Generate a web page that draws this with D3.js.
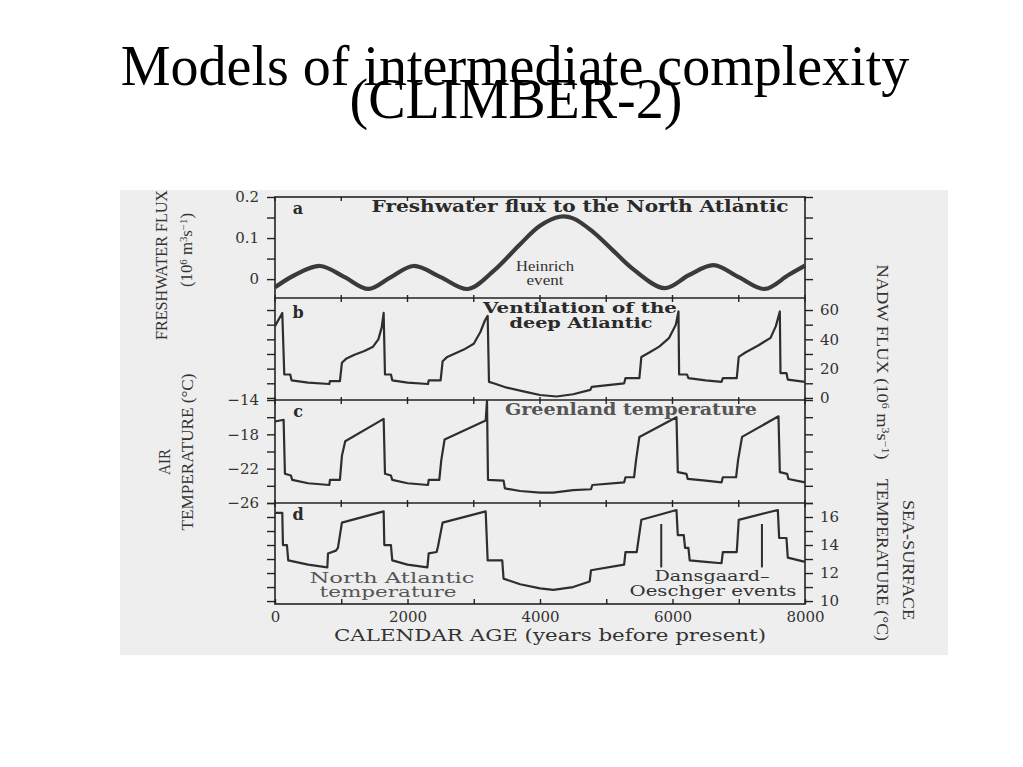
<!DOCTYPE html>
<html><head><meta charset="utf-8">
<script src="https://cdn.jsdelivr.net/npm/d3@7"></script>
<style>body{margin:0;background:#fff;} svg{display:block}</style>
</head><body>
<svg id="chart" width="1023" height="767"></svg>
<script>
// ---------- DATA ----------
const titleLines = ["Models of intermediate complexity", "(CLIMBER-2)"];

const xTickYears = [0, 1000, 2000, 3000, 4000, 5000, 6000, 7000, 8000];
const xLabelYears = [0, 2000, 4000, 6000, 8000];

// a: freshwater flux (10^6 m^3 s^-1)
const fluxYears  = [0, 300, 680, 1050, 1410, 1750, 2090, 2500, 2910, 3300, 3700, 4000, 4300, 4500, 4800, 5100, 5400, 5880, 6250, 6620, 7000, 7390, 7750, 8000];
const fluxValues = [-0.02, 0.01, 0.032, 0.005, -0.024, 0.005, 0.032, 0.005, -0.024, 0.02, 0.085, 0.13, 0.152, 0.148, 0.115, 0.07, 0.025, -0.022, 0.01, 0.034, 0.005, -0.024, 0.01, 0.033];
const fluxTicks = [0, 0.05, 0.1, 0.15, 0.2];
const fluxLabeled = [0, 0.1, 0.2];

// b: NADW flux (10^6 m^3 s^-1)
const nadwYears  = [0, 110, 140, 230, 250, 500, 820, 830, 980, 1010, 1080, 1200, 1350, 1480, 1560, 1610, 1640, 1660, 1750, 1770, 2000, 2310, 2320, 2500, 2530, 2600, 2700, 2850, 3000, 3100, 3170, 3210, 3230, 3300, 3500, 3800, 4000, 4250, 4500, 4760, 4780, 5270, 5290, 5500, 5530, 5650, 5800, 5950, 6050, 6090, 6100, 6220, 6240, 6500, 6740, 6760, 6970, 7000, 7100, 7300, 7480, 7560, 7620, 7630, 7720, 7740, 8000];
const nadwValues = [49, 58, 16, 16, 12, 10.5, 9.5, 11.5, 11.5, 24, 27, 29.5, 32, 35, 40, 48, 58, 16, 16, 12, 10.5, 9.5, 12, 12, 25, 28, 30, 33, 37, 45, 53, 56, 11, 10, 7, 4, 2, 1, 2.5, 5.5, 7.5, 10, 13.5, 13.5, 28, 31, 35, 41, 50, 59, 16, 16, 13.5, 12, 11, 13.5, 13.5, 28, 31, 36, 41, 49, 59, 17, 17, 12.5, 11];
const nadwTicks = [0, 10, 20, 30, 40, 50, 60];
const nadwLabeled = [0, 20, 40, 60];

// c: Greenland air temperature (°C)
const greenYears  = [0, 130, 150, 240, 260, 500, 820, 830, 980, 1010, 1060, 1640, 1660, 1750, 1770, 2000, 2310, 2320, 2480, 2510, 2560, 3180, 3200, 3215, 3450, 3470, 3700, 4000, 4200, 4500, 4770, 4790, 5270, 5290, 5420, 5450, 5500, 6060, 6080, 6210, 6230, 6500, 6740, 6760, 6960, 6990, 7050, 7600, 7620, 7730, 7750, 8000];
const greenValues = [-16.5, -16.3, -22.6, -22.8, -23.3, -23.7, -23.9, -23.3, -23.3, -20.5, -18.8, -16.2, -22.6, -22.8, -23.3, -23.7, -23.9, -23.3, -23.3, -21, -18.6, -16.4, -14.1, -23.3, -23.4, -24.3, -24.6, -24.8, -24.8, -24.5, -24.4, -23.9, -23.6, -23.0, -23.0, -21, -18.3, -16.0, -22.4, -22.6, -23.2, -23.4, -23.6, -23.0, -23.0, -21, -18.3, -15.9, -22.4, -22.6, -23.2, -23.6];
const greenTicks = [-26, -24, -22, -20, -18, -16, -14];
const greenLabeled = [-14, -18, -22, -26];

// d: North Atlantic sea-surface temperature (°C)
const sstYears  = [0, 110, 120, 180, 200, 500, 790, 800, 920, 950, 1010, 1640, 1650, 1750, 1770, 2000, 2300, 2320, 2440, 2460, 2530, 3180, 3210, 3430, 3450, 3700, 4000, 4200, 4500, 4750, 4770, 5270, 5290, 5460, 5530, 6060, 6080, 6170, 6190, 6240, 6260, 6500, 6740, 6760, 6970, 7000, 7590, 7610, 7720, 7740, 8000];
const sstValues = [16.3, 16.3, 14.0, 14.0, 12.9, 12.6, 12.4, 13.4, 13.6, 13.8, 15.6, 16.4, 14.0, 14.0, 12.9, 12.6, 12.4, 13.4, 13.5, 13.9, 15.6, 16.4, 12.9, 12.9, 11.6, 11.2, 10.9, 10.8, 11.0, 11.4, 12.2, 12.6, 13.5, 13.5, 15.8, 16.5, 14.7, 14.7, 13.8, 13.8, 12.9, 12.8, 12.7, 13.5, 13.5, 15.8, 16.5, 14.5, 14.5, 13.1, 12.8];
const sstTicks = [10, 11, 12, 13, 14, 15, 16, 17];
const sstLabeled = [10, 12, 14, 16];

// Dansgaard–Oeschger event markers
const doEventYears = [5830, 7350];
const doEventTop = 15.5;
const doEventBottom = 12.4;

// ---------- DRAW ----------
const svg = d3.select("#chart");
const SERIF = "'DejaVu Serif', serif";
const TIMES = "'Liberation Serif', 'Times New Roman', serif";

// title
svg.append("text").attr("x", 515).attr("y", 85).attr("text-anchor", "middle")
  .attr("font-family", TIMES).attr("font-size", 56).attr("fill", "#000").text(titleLines[0]);
svg.append("text").attr("x", 516).attr("y", 118).attr("text-anchor", "middle")
  .attr("font-family", TIMES).attr("font-size", 56).attr("fill", "#000").text(titleLines[1]);

// scanned figure background
svg.append("rect").attr("x", 120).attr("y", 190).attr("width", 828).attr("height", 465).attr("fill", "#eeeeee");

const L = 275, R = 805;
const x = d3.scaleLinear().domain([0, 8000]).range([L, R]);
const yA = d3.scaleLinear().domain([-0.046, 0.2]).range([298, 197]);
const yB = d3.scaleLinear().domain([-1.4, 68.2]).range([400, 298]);
const yC = d3.scaleLinear().domain([-26, -14]).range([503, 400]);
const yD = d3.scaleLinear().domain([9.79, 17]).range([604, 503]);

const axisColor = "#222";

function yAxis(scale, side, ticks, labeled, fmt) {
  const ax = (side === "left" ? d3.axisLeft(scale) : d3.axisRight(scale))
    .tickValues(ticks).tickSize(8).tickPadding(side === "left" ? 8 : 7)
    .tickFormat(d => labeled.includes(d) ? fmt(d) : "");
  const g = svg.append("g").attr("transform", `translate(${side === "left" ? L : R},0)`).call(ax);
  g.select(".domain").remove();
  g.selectAll("line").attr("stroke", axisColor).attr("stroke-width", 1.4);
  g.selectAll("text").attr("font-family", SERIF).attr("font-size", 15).attr("fill", "#333");
  return g;
}
yAxis(yA, "left", fluxTicks, fluxLabeled, d => d === 0 ? "0" : d.toFixed(1));
yAxis(yA, "right", fluxTicks, [], d => "");
yAxis(yB, "left", nadwTicks, [], d => "");
yAxis(yB, "right", nadwTicks, nadwLabeled, d => String(d));
yAxis(yC, "left", greenTicks, greenLabeled, d => "\u2212" + Math.abs(d));
yAxis(yC, "right", greenTicks, [], d => "");
yAxis(yD, "left", sstTicks, [], d => "");
yAxis(yD, "right", sstTicks, sstLabeled, d => String(d));

// bottom x axis
const xb = svg.append("g").attr("transform", "translate(0,604)")
  .call(d3.axisBottom(x).tickValues(xTickYears).tickSize(-5).tickPadding(7)
    .tickFormat(d => xLabelYears.includes(d) ? String(d) : ""));
xb.select(".domain").remove();
xb.selectAll("line").attr("stroke", axisColor).attr("stroke-width", 1.4);
xb.selectAll("text").attr("font-family", SERIF).attr("font-size", 15).attr("fill", "#333");

// small x ticks on top and panel boundaries
[197, 298, 400, 503].forEach(b => {
  svg.append("g").selectAll("line").data(xTickYears).join("line")
    .attr("x1", d => x(d)).attr("x2", d => x(d))
    .attr("y1", b - (b === 197 ? 0 : 3)).attr("y2", b + 4)
    .attr("stroke", axisColor).attr("stroke-width", 1.4);
});

// frame and panel separators
svg.append("rect").attr("x", L).attr("y", 197).attr("width", R - L).attr("height", 604 - 197)
  .attr("fill", "none").attr("stroke", axisColor).attr("stroke-width", 1.6);
[298, 400, 503].forEach(b => {
  svg.append("line").attr("x1", L).attr("x2", R).attr("y1", b).attr("y2", b)
    .attr("stroke", axisColor).attr("stroke-width", 1.6);
});

// curves
const fluxData = fluxYears.map((t, i) => [t, fluxValues[i]]);
svg.append("path").datum(fluxData)
  .attr("d", d3.line().x(d => x(d[0])).y(d => yA(d[1])).curve(d3.curveCatmullRom.alpha(0.5)))
  .attr("fill", "none").attr("stroke", "#3a3a3a").attr("stroke-width", 4.2).attr("stroke-linejoin", "round");

function series(years, values, yScale) {
  const data = years.map((t, i) => [t, values[i]]);
  svg.append("path").datum(data)
    .attr("d", d3.line().x(d => x(d[0])).y(d => yScale(d[1])))
    .attr("fill", "none").attr("stroke", "#2e2e2e").attr("stroke-width", 2.2).attr("stroke-linejoin", "round");
}
series(nadwYears, nadwValues, yB);
series(greenYears, greenValues, yC);
series(sstYears, sstValues, yD);

svg.append("g").selectAll("line").data(doEventYears).join("line")
  .attr("x1", d => x(d)).attr("x2", d => x(d))
  .attr("y1", yD(doEventTop)).attr("y2", yD(doEventBottom))
  .attr("stroke", "#2e2e2e").attr("stroke-width", 2);

// text helper
function txt(str, px, py, size, opts = {}) {
  const t = svg.append("text").attr("x", px).attr("y", py)
    .attr("text-anchor", opts.anchor || "middle")
    .attr("font-family", opts.family || SERIF).attr("font-size", size)
    .attr("font-weight", opts.weight || "normal").attr("fill", opts.fill || "#2a2a2a")
    .text(str);
  if (opts.len) t.attr("textLength", opts.len).attr("lengthAdjust", "spacingAndGlyphs");
  return t;
}
txt("a", 298, 214, 16, {weight: "bold"});
txt("b", 298, 318, 16, {weight: "bold"});
txt("c", 298, 417, 16, {weight: "bold"});
txt("d", 298, 520, 16, {weight: "bold"});
txt("Freshwater flux to the North Atlantic", 580, 212, 16, {weight: "bold", len: 417});
txt("Ventilation of the", 580, 313, 14, {weight: "bold", len: 194});
txt("deep Atlantic", 581, 328, 14, {weight: "bold", len: 143});
txt("Greenland temperature", 631, 415, 16, {weight: "bold", len: 252, fill: "#555"});
txt("Heinrich", 545, 271, 15, {family: TIMES, len: 58, fill: "#333"});
txt("event", 545, 285, 15, {family: TIMES, len: 37, fill: "#333"});
txt("North Atlantic", 392, 583, 14, {len: 165, fill: "#555"});
txt("temperature", 388, 597, 14, {len: 137, fill: "#555"});
txt("Dansgaard\u2013", 712, 581, 14, {len: 115, fill: "#333"});
txt("Oeschger events", 713, 596, 14, {len: 167, fill: "#333"});
txt("CALENDAR AGE (years before present)", 550, 641, 17, {len: 432, fill: "#333"});

// rotated axis titles
function rot(parts, cx, cy, angle, size, len) {
  const t = svg.append("text").attr("transform", `translate(${cx},${cy}) rotate(${angle})`)
    .attr("text-anchor", "middle").attr("font-family", TIMES).attr("font-size", size).attr("fill", "#333");
  parts.forEach(p => {
    const s = t.append("tspan").text(p.t);
    if (p.sup) s.attr("baseline-shift", "super").attr("font-size", size * 0.65);
  });
  if (len) t.attr("textLength", len).attr("lengthAdjust", "spacingAndGlyphs");
}
const unitParts = [{t: "(10"}, {t: "6", sup: true}, {t: " m"}, {t: "3", sup: true}, {t: "s"}, {t: "\u22121", sup: true}, {t: ")"}];
rot([{t: "FRESHWATER FLUX"}], 167, 265, -90, 16, 150);
rot(unitParts, 192, 250, -90, 16, 74);
rot([{t: "AIR"}], 170, 462, -90, 16, 26);
rot([{t: "TEMPERATURE (\u00B0C)"}], 193, 452, -90, 16, 157);
rot([{t: "NADW FLUX "}].concat(unitParts), 877, 362, 90, 16, 195);
rot([{t: "SEA-SURFACE"}], 903, 560, 90, 16, 120);
rot([{t: "TEMPERATURE (\u00B0C)"}], 877, 560, 90, 16, 162);
</script>
</body></html>
